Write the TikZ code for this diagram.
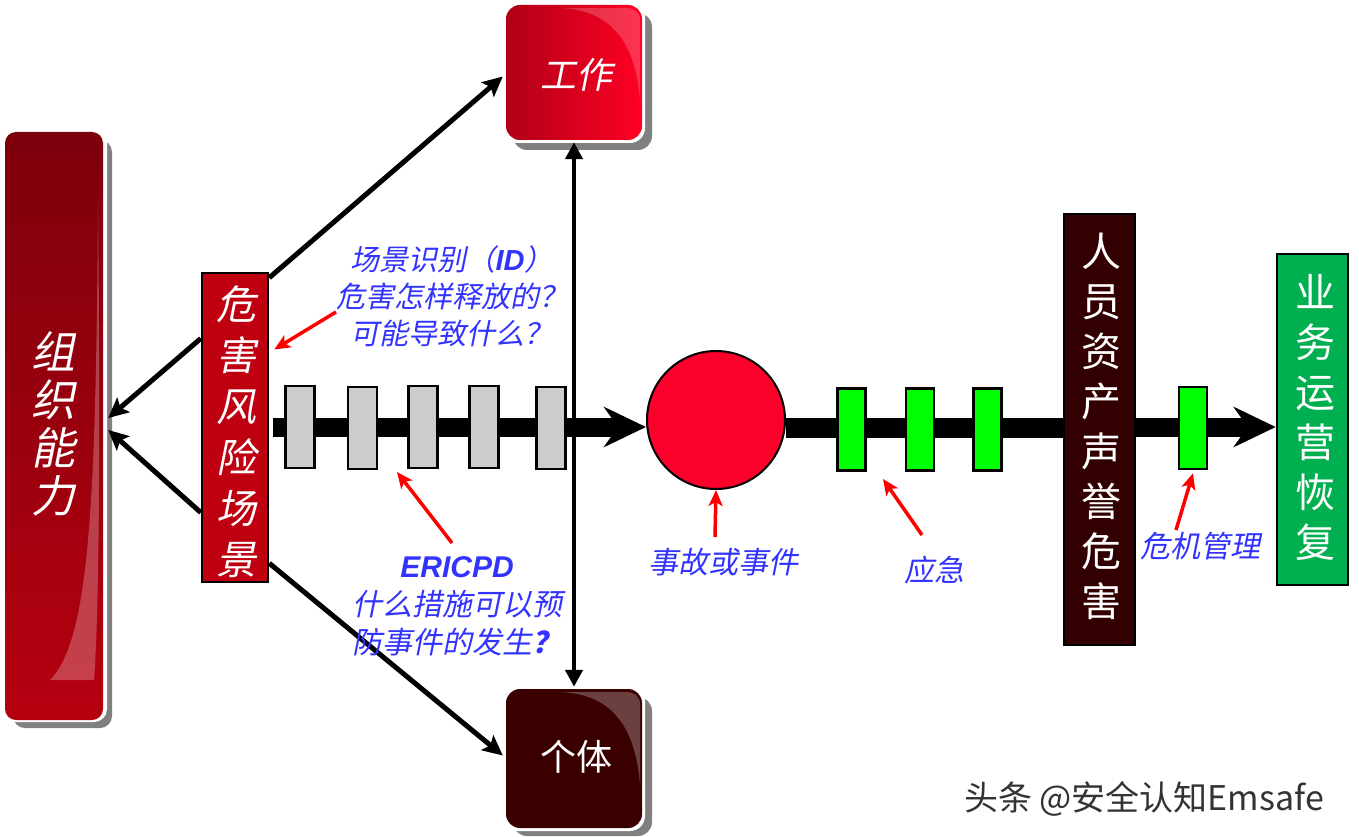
\documentclass[tikz,border=0pt]{standalone}
\usepackage{fontspec}
\newfontfamily\cjk{Noto Sans CJK SC}
\newfontfamily\cjki[FakeSlant=0.2]{Noto Sans CJK SC}
\newfontfamily\lat{Liberation Sans}
\usetikzlibrary{arrows.meta,calc}
\definecolor{bluetxt}{RGB}{51,51,255}
\definecolor{darkred}{RGB}{125,0,12}
\definecolor{midred}{RGB}{182,0,16}
\definecolor{hzred}{RGB}{190,0,16}
\definecolor{workL}{RGB}{176,0,22}
\definecolor{workR}{RGB}{255,0,36}
\definecolor{brown}{RGB}{58,0,0}
\definecolor{harmbrown}{RGB}{50,0,0}
\definecolor{accred}{RGB}{250,0,42}
\definecolor{bizgreen}{RGB}{0,176,80}
\definecolor{shadowgray}{RGB}{128,128,128}
\tikzset{
  thinarrow/.style={line width=5pt, black, -{Stealth[length=20pt,width=19pt,inset=4pt]}},
  dblarrow/.style={line width=4.5pt, black, {Triangle[length=17pt,width=17pt]}-{Triangle[length=17pt,width=17pt]}},
  bigarrow/.style={line width=19pt, black, -{Stealth[length=42pt,width=40pt,inset=14pt]}},
  redarrow/.style={line width=3.5pt, red, -{Stealth[length=16pt,width=14pt,inset=4pt]}},
  graybox/.style={draw=black, line width=2.5pt, fill=black!20, minimum width=29pt, minimum height=82pt, inner sep=0pt},
  greenbox/.style={draw=black, line width=2.5pt, fill=green, minimum width=28pt, minimum height=82pt, inner sep=0pt},
  bluelbl/.style={text=bluetxt, font=\cjki\fontsize{30}{38}\selectfont, align=center, inner sep=0pt},
  whitev/.style={text=white, align=center, inner sep=0pt},
}
\begin{document}
\begin{tikzpicture}[x=1pt,y=-1pt]
\useasboundingbox (0,0) rectangle (1359,837);
\fill[white] (0,0) rectangle (1359,837);

% ---------- organisation capability (left tall box) ----------
\fill[shadowgray, rounded corners=12pt] (13,140) rectangle (112,728);
\fill[white, rounded corners=13pt] (3,130) rectangle (107,722);
\node[rounded corners=11pt, top color=darkred, bottom color=midred, minimum width=98pt, minimum height=588pt, inner sep=0pt] (org) at (54,426) {};
\fill[white, opacity=0.25] (98,200) .. controls (96,500) and (90,640) .. (50,680) -- (94,680) .. controls (100,600) and (100,400) .. (98,200) -- cycle;
\node[whitev, font=\cjki\fontsize{44}{48}\selectfont] (orgtxt) at (53,424) {组\\织\\能\\力};

% ---------- work box ----------
\fill[shadowgray, rounded corners=14pt] (513,13) rectangle (652,150);
\fill[white, rounded corners=15pt] (503,2) rectangle (645,143);
\node[rounded corners=14pt, left color=workL, right color=workR, minimum width=136pt, minimum height=135pt, inner sep=0pt] (work) at (574,72.5) {};
\fill[white, opacity=0.2] (560,8) .. controls (610,10) and (635,40) .. (640,100) -- (640,20) .. controls (640,12) and (634,8) .. (626,8) -- cycle;
\node[text=white, font=\cjki\fontsize{36}{40}\selectfont] (worktxt) at (576,75) {工作};

% ---------- individual box ----------
\fill[shadowgray, rounded corners=14pt] (513,697) rectangle (652,836);
\fill[white, rounded corners=15pt] (503,686) rectangle (645,831);
\node[rounded corners=14pt, fill=brown, minimum width=136pt, minimum height=139pt, inner sep=0pt] (indiv) at (574,758.5) {};
\fill[white, opacity=0.25] (560,692) .. controls (610,694) and (635,724) .. (640,784) -- (640,704) .. controls (640,696) and (634,692) .. (626,692) -- cycle;
\node[text=white, font=\cjk\fontsize{36}{40}\selectfont] (indivtxt) at (576,757) {个体};

% ---------- hazard scenario box ----------
\node[draw=black, line width=2.5pt, fill=hzred, minimum width=66pt, minimum height=309pt, inner sep=0pt] (hz) at (235,427.5) {};
\node[whitev, font=\cjki\fontsize{40}{51}\selectfont] (hztxt) at (236,432) {危\\害\\风\\险\\场\\景};

% ---------- connectors from hazard box ----------
\draw[thinarrow] ([yshift=-6pt]hz.north east) -- ([xshift=-3pt,yshift=-4pt]work.west);
\draw[thinarrow] ([yshift=20pt]hz.south east) -- ([xshift=-3pt,yshift=3pt]indiv.west);
\draw[thinarrow] ([yshift=89pt]hz.west) -- ([xshift=5pt,yshift=8pt]org.east);
\draw[thinarrow] ([yshift=-85pt]hz.west) -- ([xshift=5pt,yshift=-4pt]org.east);

% ---------- main flow ----------
\node[circle, draw=black, line width=2pt, fill=accred, minimum width=138pt, minimum height=128pt, inner sep=0pt] (acc) at (716,420) {};
\coordinate (mainstart) at (273,427);
\draw[bigarrow] (mainstart) -- (acc.west |- mainstart);

\node[draw=black, line width=2.5pt, fill=harmbrown, minimum width=71pt, minimum height=431pt, inner sep=0pt] (harm) at (1099.5,429.5) {};
\node[draw=black, line width=2.5pt, fill=bizgreen, minimum width=71pt, minimum height=331pt, inner sep=0pt] (biz) at (1312.5,419.5) {};

\fill[black] (acc.east |- 0,418) rectangle (harm.west |- 0,438);
\draw[bigarrow] (harm.east |- 0,427) -- (biz.west |- 0,427);

\node[whitev, font=\cjk\fontsize{40}{50}\selectfont] (harmtxt) at (1101,426) {人\\员\\资\\产\\声\\誉\\危\\害};
\node[whitev, font=\cjk\fontsize{40}{50}\selectfont] (biztxt) at (1315,418) {业\\务\\运\\营\\恢\\复};

\node[graybox] (g1) at (300,427) {};
\node[graybox] (g2) at (362.5,428) {};
\node[graybox] (g3) at (423,427) {};
\node[graybox] (g4) at (484,427) {};
\node[graybox] (g5) at (551,428) {};

\node[greenbox] (e1) at (851.5,429.5) {};
\node[greenbox] (e2) at (920,429.5) {};
\node[greenbox] (e3) at (987.5,429.5) {};
\node[greenbox] (m1) at (1193,428) {};

% ---------- vertical double arrow ----------
\draw[dblarrow] ([yshift=-2pt]work.south) -- ([yshift=2pt]indiv.north);

% ---------- labels ----------
\node[bluelbl, font=\cjki\fontsize{29}{37}\selectfont] (idtxt) at (452,296) {场景识别（{\lat\bfseries\itshape ID}）\\危害怎样释放的？\\可能导致什么？};
\node[bluelbl] (ericpd) at (457,606) {{\lat\bfseries\itshape ERICPD}\\什么措施可以预\\防事件的发生{\bfseries ？}};
\node[bluelbl] (acctxt) at (723,562) {事故或事件};
\node[bluelbl] (emtxt) at (934,570) {应急};
\node[bluelbl] (cmtxt) at (1200,546) {危机管理};

% ---------- red pointer arrows ----------
\coordinate (r1s) at (336,312);
\coordinate (r2s) at (452,543);
\coordinate (r3s) at (715,537);
\coordinate (r4s) at (922,535);
\coordinate (r5s) at (1176,530);
\draw[redarrow] (r1s) -- ([xshift=5pt,yshift=78pt]hz.east);
\draw[redarrow] (r2s) -- (397,472);
\draw[redarrow] (r3s) -- (acc.south);
\draw[redarrow] (r4s) -- (883,479);
\draw[redarrow] (r5s) -- ([yshift=-3pt]m1.south);

% ---------- watermark ----------
\node[text=black!80, font=\cjk\fontsize{34}{38}\selectfont, inner sep=0pt] (wm) at (1144,799) {头条 @安全认知Emsafe};
\end{tikzpicture}
\end{document}
